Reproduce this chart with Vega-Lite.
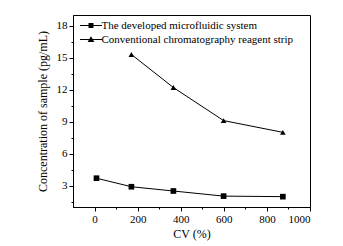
{
  "$schema": "https://vega.github.io/schema/vega-lite/v6.json",
  "width": 237,
  "height": 192,
  "autosize": {"type": "none"},
  "padding": {"left": 73, "top": 15, "right": 33, "bottom": 39},
  "background": "white",
  "config": {
    "view": {"stroke": "black", "strokeWidth": 1},
    "font": "Liberation Serif",
    "axis": {
      "labelFont": "Liberation Serif",
      "titleFont": "Liberation Serif",
      "labelColor": "black",
      "titleColor": "black",
      "domainColor": "black",
      "tickColor": "black",
      "labelFontSize": 11,
      "titleFontSize": 12,
      "titleFontWeight": "normal",
      "grid": false
    },
    "legend": {
      "labelFont": "Liberation Serif"
    }
  },
  "data": {
    "values": [
      {"cv": 9, "conc": 3.7, "series": "The developed microfluidic system"},
      {"cv": 171, "conc": 2.9, "series": "The developed microfluidic system"},
      {"cv": 366, "conc": 2.5, "series": "The developed microfluidic system"},
      {"cv": 599, "conc": 2.02, "series": "The developed microfluidic system"},
      {"cv": 874, "conc": 1.97, "series": "The developed microfluidic system"},
      {"cv": 171, "conc": 15.3, "series": "Conventional chromatography reagent strip"},
      {"cv": 366, "conc": 12.2, "series": "Conventional chromatography reagent strip"},
      {"cv": 599, "conc": 9.1, "series": "Conventional chromatography reagent strip"},
      {"cv": 874, "conc": 8.0, "series": "Conventional chromatography reagent strip"}
    ]
  },
  "encoding": {
    "x": {
      "field": "cv", "type": "quantitative",
      "scale": {"domain": [-100, 1000], "nice": false, "zero": false},
      "axis": {
        "title": "CV (%)",
        "format": "d",
        "values": [0, 100, 200, 300, 400, 500, 600, 700, 800, 900, 1000],
        "labelExpr": "datum.value % 200 === 0 ? datum.label : ''",
        "tickSize": {"expr": "datum.value % 200 === 0 ? 4 : 2"},
        "labelPadding": 2,
        "titlePadding": 4
      }
    },
    "y": {
      "field": "conc", "type": "quantitative",
      "scale": {"domain": [1, 19], "nice": false, "zero": false},
      "axis": {
        "title": "Concentration of sample (pg/mL)",
        "values": [1.5, 3, 4.5, 6, 7.5, 9, 10.5, 12, 13.5, 15, 16.5, 18],
        "labelExpr": "datum.value % 3 === 0 ? datum.label : ''",
        "tickSize": {"expr": "datum.value % 3 === 0 ? 4 : 2"},
        "labelPadding": 2,
        "titlePadding": 7
      }
    }
  },
  "resolve": {"scale": {"shape": "independent"}, "legend": {"shape": "independent"}},
  "layer": [
    {
      "mark": {"type": "line", "color": "black", "strokeWidth": 1},
      "encoding": {"detail": {"field": "series"}}
    },
    {
      "mark": {"type": "point", "filled": true, "color": "black", "opacity": 1, "size": 32},
      "encoding": {
        "shape": {
          "field": "series", "type": "nominal",
          "scale": {
            "domain": ["The developed microfluidic system", "Conventional chromatography reagent strip"],
            "range": ["square", "triangle-up"]
          },
          "legend": null
        }
      }
    },
    {
      "mark": {"type": "point", "filled": true, "color": "black", "opacity": 0, "size": 1},
      "encoding": {
        "shape": {
          "field": "series", "type": "nominal",
          "scale": {
            "domain": ["The developed microfluidic system", "Conventional chromatography reagent strip"],
            "range": ["M-2.75,-0.12H2.75V0.12H-2.75Z M-0.62,-0.62H0.62V0.62H-0.62Z", "M-2.75,-0.12H2.75V0.12H-2.75Z M0,-0.8L0.85,0.65H-0.85Z"]
          },
          "legend": {
            "orient": "none",
            "legendX": 12.5,
            "legendY": 5,
            "title": null,
            "padding": 0,
            "symbolSize": 64,
            "symbolOpacity": 1,
            "symbolFillColor": "black",
            "symbolStrokeColor": "black",
            "symbolStrokeWidth": 0,
            "labelOffset": 5,
            "labelFont": "Liberation Serif",
            "labelFontSize": 11,
            "labelColor": "black",
            "labelLimit": 300,
            "rowPadding": 2
          }
        }
      }
    }
  ]
}
